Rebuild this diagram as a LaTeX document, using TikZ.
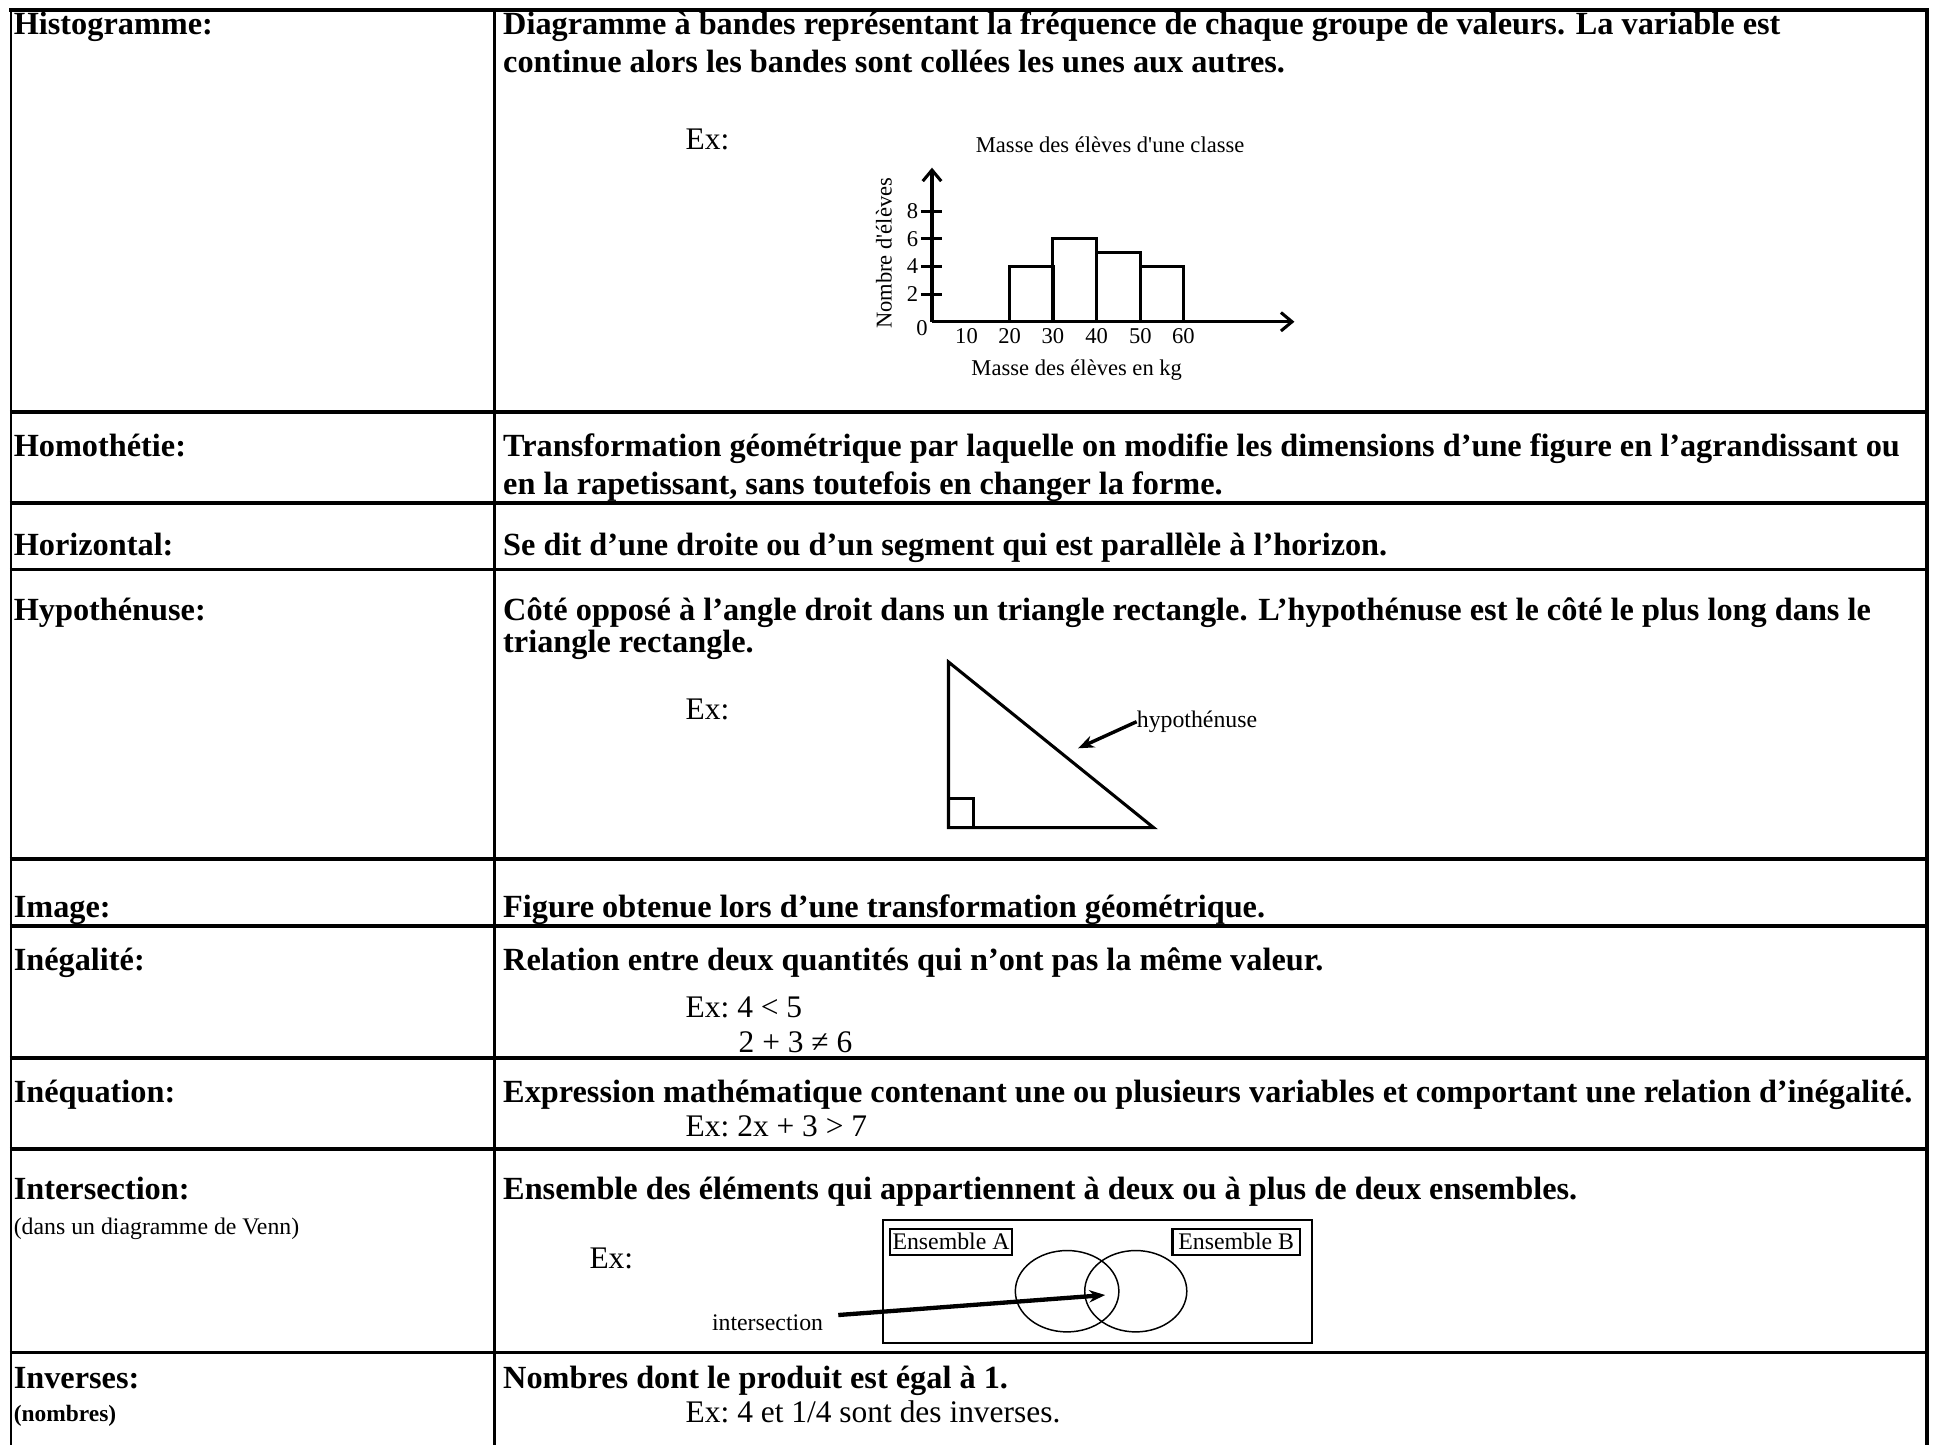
\documentclass[tikz,border=0pt]{standalone}
\usepackage{fontspec}
\setmainfont{Liberation Serif}
\usetikzlibrary{arrows.meta}
\usetikzlibrary{positioning}
\tikzset{term/.style = {anchor = base west, inner sep = 0, font = \fontsize{26.2}{31}\selectfont\bfseries}}
\tikzset{exm/.style = {anchor = base west, inner sep = 0, font = \fontsize{25.5}{30}\selectfont}}
\tikzset{smalltxt/.style = {inner sep = 0, font = \fontsize{19.3}{22}\selectfont}}
\tikzset{histtxt/.style = {inner sep = 0, font = \fontsize{18.3}{21}\selectfont}}
\tikzset{rule/.style = {line width = 3}}
\tikzset{thin rule/.style = {line width = 2}}
\tikzset{fig/.style = {line width = 2.5}}

\begin{document}
\begin{tikzpicture}[x = 1pt, y = -1pt]
  \useasboundingbox (0, 0) rectangle (1568, 1172);
  \fill[white] (0, 0) rectangle (1568, 1172);
  % table
  \draw[rule] (7.5, 8) -- (1564.5, 8);
  \foreach \y in {334, 408, 462, 697, 751, 858, 932, 1097} {
    \draw[rule] (8, \y) -- (1564, \y);
  }
  \draw[thin rule] (9, 7) -- (9, 1172);
  \draw[thin rule] (401, 7) -- (401, 1172);
  \draw[rule] (1563, 7) -- (1563, 1172);

  % left column
  \node[term] (histo) at (11, 28) {Histogramme:};
  \node[term] (homo) at (11, 370) {Homothétie:};
  \node[term] (horiz) at (11, 451) {Horizontal:};
  \node[term] (hypo) at (11, 503) {Hypothénuse:};
  \node[term] (image) at (11, 744) {Image:};
  \node[term] (inegal) at (11, 787) {Inégalité:};
  \node[term] (ineq) at (11, 894) {Inéquation:};
  \node[term] (inter) at (11, 973) {Intersection:};
  \node[smalltxt, anchor = base west] (venn) at (11, 1001) {(dans un diagramme de Venn)};
  \node[term] (inv) at (11, 1126) {Inverses:};
  \node[smalltxt, anchor = base west, font = \fontsize{19}{22}\selectfont\bfseries] (nomb) at (11, 1153) {(nombres)};

  % right column
  \node[term] (histodef1) at (408, 28) {Diagramme à bandes représentant la fréquence de chaque groupe de valeurs. La variable est};
  \node[term] (histodef2) at (408, 59) {continue alors les bandes sont collées les unes aux autres.};
  \node[exm] (histoex) at (556, 121) {Ex:};
  \node[term] (homodef1) at (408, 370) {Transformation géométrique par laquelle on modifie les dimensions d’une figure en l’agrandissant ou};
  \node[term] (homodef2) at (408, 401) {en la rapetissant, sans toutefois en changer la forme.};
  \node[term] (horizdef) at (408, 451) {Se dit d’une droite ou d’un segment qui est parallèle à l’horizon.};
  \node[term] (hypodef1) at (408, 503) {Côté opposé à l’angle droit dans un triangle rectangle. L’hypothénuse est le côté le plus long dans le};
  \node[term] (hypodef2) at (408, 529) {triangle rectangle.};
  \node[exm] (hypoex) at (556, 584) {Ex:};
  \node[term] (imagedef) at (408, 744) {Figure obtenue lors d’une transformation géométrique.};
  \node[term] (inegaldef) at (408, 787) {Relation entre deux quantités qui n’ont pas la même valeur.};
  \node[exm] (inegalex1) at (556, 825) {Ex:\hspace{-2pt} 4 < 5};
  \node[exm] (inegalex2) at (599, 854) {2 + 3 ≠ 6};
  \node[term] (ineqdef) at (408, 894) {Expression mathématique contenant une ou plusieurs variables et comportant une relation d’inégalité.};
  \node[exm] (ineqex) at (556, 922) {Ex:\hspace{-2pt} 2x + 3 > 7};
  \node[term] (interdef) at (408, 973) {Ensemble des éléments qui appartiennent à deux ou à plus de deux ensembles.};
  \node[exm] (interex) at (478, 1029) {Ex:};
  \node[term] (invdef) at (408, 1126) {Nombres dont le produit est égal à 1.};
  \node[exm] (invex) at (556, 1154) {Ex:\hspace{-2pt} 4 et 1/4 sont des inverses.};

  % histogram
  \coordinate (orig) at (756, 261);
  \coordinate (ytip) at (756, 136);
  \coordinate (xtip) at (1050, 261);
  \draw[fig, -{Straight Barb[length = 9pt, width = 15pt]}] (orig) -- (ytip);
  \draw[fig, -{Straight Barb[length = 9pt, width = 15pt]}] (orig) -- (xtip);
  \foreach \v in {2, 4, 6, 8} {
    \draw[fig] (747, {261 - 11.2*\v}) -- (764, {261 - 11.2*\v});
    \node[histtxt, anchor = east] (ytick\v) at (745, {261 - 11.2*\v}) {\v};
  }
  \foreach \a/\h in {819/4, 854/6, 889.5/5, 925/4} {
    \draw[fig] (\a, 261) rectangle ({\a + 35.3}, {261 - 11.2*\h});
  }
  \foreach \v/\x in {10/784, 20/819, 30/854, 40/889.5, 50/925, 60/960} {
    \node[histtxt] (xtick\v) at (\x, 272.6) {\v};
  }
  \node[histtxt] (zero) at (748, 266) {0};
  \node[histtxt] (htitle) at (900.5, 117.6) {Masse des élèves d\textquotesingle une classe};
  \node[histtxt] (xlab) at (873.4, 300) {Masse des élèves en kg};
  \node[histtxt, rotate = 90] (ylab) at (717, 205.5) {Nombre d\textquotesingle élèves};

  % triangle
  \coordinate (ta) at (769.4, 537);
  \coordinate (tb) at (769.4, 671.4);
  \coordinate (tc) at (935.8, 671.4);
  \draw[fig] (ta) -- (tb) -- (tc) -- cycle;
  \draw[fig] (769.4, 647.6) -| (789.7, 671.4);
  \node[smalltxt, anchor = west] (hyplbl) at (922, 585.4) {hypothénuse};
  \coordinate (hyppt) at (874.5, 607);
  \draw[line width = 2.8, -{Stealth[length = 13pt, width = 10pt]}] (hyplbl.west) -- (hyppt);

  % venn
  \draw[line width = 1.8] (716, 989.5) rectangle (1064, 1089.5);
  \node[smalltxt, draw, line width = 1.8, minimum width = 98.7, minimum height = 21.3] (setA) at (771.4, 1007.3) {Ensemble A};
  \node[smalltxt, draw, line width = 1.8, minimum width = 103.6, minimum height = 21.3] (setB) at (1002.8, 1007.3) {Ensemble B};
  \draw[line width = 1.2] (865.6, 1047.4) ellipse [x radius = 42, y radius = 33];
  \draw[line width = 1.2] (921.3, 1047.4) ellipse [x radius = 41.4, y radius = 33];
  \node[smalltxt] (interlbl) at (622.6, 1073) {intersection};
  \coordinate (intertail) at (680, 1066.7);
  \coordinate (interpt) at (896.5, 1050.5);
  \draw[line width = 3.5, -{Stealth[length = 13pt, width = 10pt]}] (intertail) -- (interpt);
\end{tikzpicture}
\end{document}
